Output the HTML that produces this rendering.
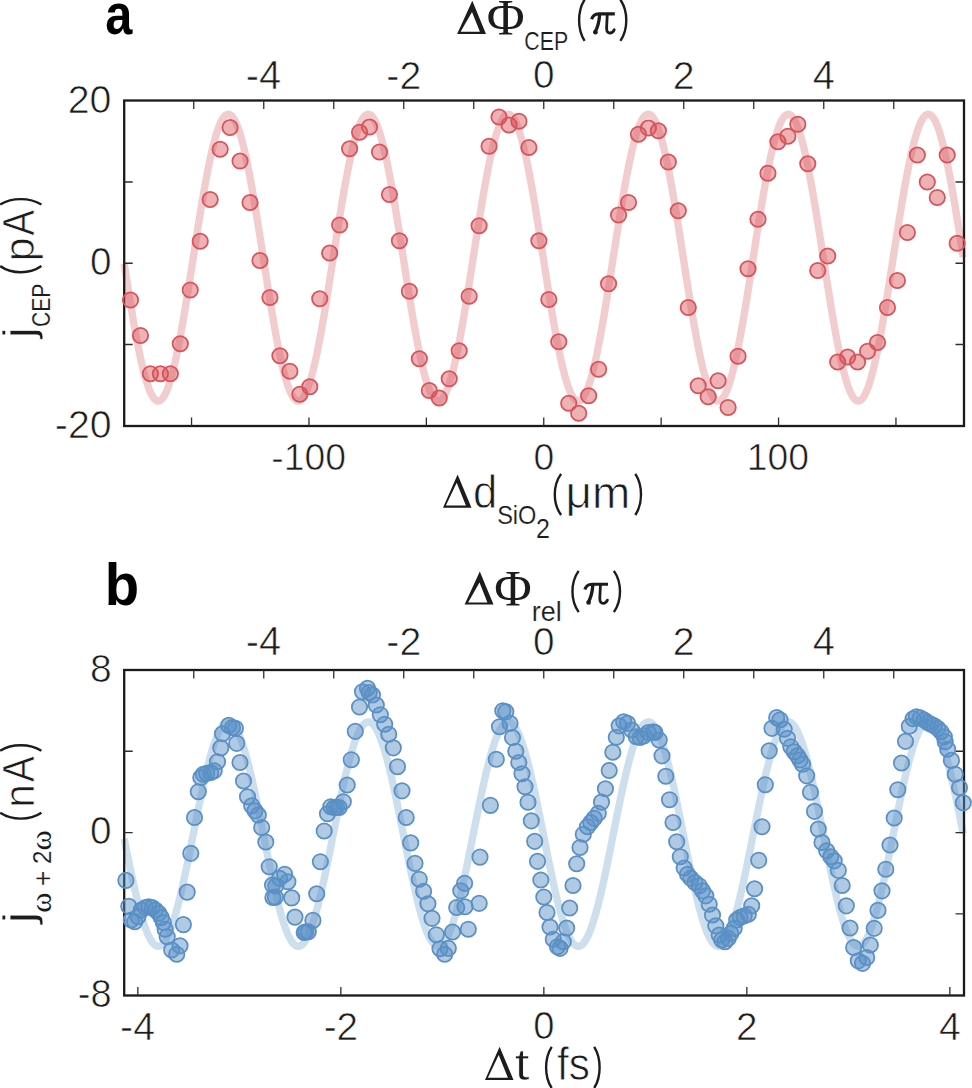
<!DOCTYPE html><html><head><meta charset="utf-8"><style>html,body{margin:0;padding:0;background:#fff;overflow:hidden}svg{display:block}</style></head><body><svg width="972" height="1088" viewBox="0 0 972 1088">
<rect width="972" height="1088" fill="#fff"/>
<clipPath id="ca"><rect x="124.2" y="100.5" width="839.8" height="325.5"/></clipPath>
<polyline points="124.2,263.71 125.2,270.13 126.2,276.53 127.2,282.89 128.2,289.20 129.2,295.44 130.2,301.61 131.2,307.69 132.2,313.66 133.2,319.53 134.2,325.27 135.2,330.87 136.2,336.33 137.2,341.63 138.2,346.76 139.2,351.71 140.2,356.47 141.2,361.03 142.2,365.38 143.2,369.51 144.2,373.42 145.2,377.10 146.2,380.54 147.2,383.72 148.2,386.66 149.2,389.33 150.2,391.74 151.2,393.88 152.2,395.75 153.2,397.33 154.2,398.64 155.2,399.66 156.2,400.39 157.2,400.84 158.2,401.00 159.2,400.87 160.2,400.45 161.2,399.75 162.2,398.75 163.2,397.48 164.2,395.92 165.2,394.08 166.2,391.97 167.2,389.59 168.2,386.94 169.2,384.03 170.2,380.87 171.2,377.45 172.2,373.80 173.2,369.91 174.2,365.80 175.2,361.47 176.2,356.93 177.2,352.19 178.2,347.26 179.2,342.15 180.2,336.87 181.2,331.43 182.2,325.84 183.2,320.11 184.2,314.26 185.2,308.29 186.2,302.22 187.2,296.06 188.2,289.82 189.2,283.52 190.2,277.17 191.2,270.77 192.2,264.36 193.2,257.92 194.2,251.49 195.2,245.07 196.2,238.67 197.2,232.31 198.2,226.00 199.2,219.76 200.2,213.59 201.2,207.51 202.2,201.54 203.2,195.67 204.2,189.93 205.2,184.33 206.2,178.87 207.2,173.57 208.2,168.44 209.2,163.49 210.2,158.73 211.2,154.17 212.2,149.82 213.2,145.69 214.2,141.78 215.2,138.10 216.2,134.66 217.2,131.48 218.2,128.54 219.2,125.87 220.2,123.46 221.2,121.32 222.2,119.45 223.2,117.87 224.2,116.56 225.2,115.54 226.2,114.81 227.2,114.36 228.2,114.20 229.2,114.33 230.2,114.75 231.2,115.45 232.2,116.45 233.2,117.72 234.2,119.28 235.2,121.12 236.2,123.23 237.2,125.61 238.2,128.26 239.2,131.17 240.2,134.33 241.2,137.75 242.2,141.40 243.2,145.29 244.2,149.40 245.2,153.73 246.2,158.27 247.2,163.01 248.2,167.94 249.2,173.05 250.2,178.33 251.2,183.77 252.2,189.36 253.2,195.09 254.2,200.94 255.2,206.91 256.2,212.98 257.2,219.14 258.2,225.38 259.2,231.68 260.2,238.03 261.2,244.43 262.2,250.84 263.2,257.28 264.2,263.71 265.2,270.13 266.2,276.53 267.2,282.89 268.2,289.20 269.2,295.44 270.2,301.61 271.2,307.69 272.2,313.66 273.2,319.53 274.2,325.27 275.2,330.87 276.2,336.33 277.2,341.63 278.2,346.76 279.2,351.71 280.2,356.47 281.2,361.03 282.2,365.38 283.2,369.51 284.2,373.42 285.2,377.10 286.2,380.54 287.2,383.72 288.2,386.66 289.2,389.33 290.2,391.74 291.2,393.88 292.2,395.75 293.2,397.33 294.2,398.64 295.2,399.66 296.2,400.39 297.2,400.84 298.2,401.00 299.2,400.87 300.2,400.45 301.2,399.75 302.2,398.75 303.2,397.48 304.2,395.92 305.2,394.08 306.2,391.97 307.2,389.59 308.2,386.94 309.2,384.03 310.2,380.87 311.2,377.45 312.2,373.80 313.2,369.91 314.2,365.80 315.2,361.47 316.2,356.93 317.2,352.19 318.2,347.26 319.2,342.15 320.2,336.87 321.2,331.43 322.2,325.84 323.2,320.11 324.2,314.26 325.2,308.29 326.2,302.22 327.2,296.06 328.2,289.82 329.2,283.52 330.2,277.17 331.2,270.77 332.2,264.36 333.2,257.92 334.2,251.49 335.2,245.07 336.2,238.67 337.2,232.31 338.2,226.00 339.2,219.76 340.2,213.59 341.2,207.51 342.2,201.54 343.2,195.67 344.2,189.93 345.2,184.33 346.2,178.87 347.2,173.57 348.2,168.44 349.2,163.49 350.2,158.73 351.2,154.17 352.2,149.82 353.2,145.69 354.2,141.78 355.2,138.10 356.2,134.66 357.2,131.48 358.2,128.54 359.2,125.87 360.2,123.46 361.2,121.32 362.2,119.45 363.2,117.87 364.2,116.56 365.2,115.54 366.2,114.81 367.2,114.36 368.2,114.20 369.2,114.33 370.2,114.75 371.2,115.45 372.2,116.45 373.2,117.72 374.2,119.28 375.2,121.12 376.2,123.23 377.2,125.61 378.2,128.26 379.2,131.17 380.2,134.33 381.2,137.75 382.2,141.40 383.2,145.29 384.2,149.40 385.2,153.73 386.2,158.27 387.2,163.01 388.2,167.94 389.2,173.05 390.2,178.33 391.2,183.77 392.2,189.36 393.2,195.09 394.2,200.94 395.2,206.91 396.2,212.98 397.2,219.14 398.2,225.38 399.2,231.68 400.2,238.03 401.2,244.43 402.2,250.84 403.2,257.28 404.2,263.71 405.2,270.13 406.2,276.53 407.2,282.89 408.2,289.20 409.2,295.44 410.2,301.61 411.2,307.69 412.2,313.66 413.2,319.53 414.2,325.27 415.2,330.87 416.2,336.33 417.2,341.63 418.2,346.76 419.2,351.71 420.2,356.47 421.2,361.03 422.2,365.38 423.2,369.51 424.2,373.42 425.2,377.10 426.2,380.54 427.2,383.72 428.2,386.66 429.2,389.33 430.2,391.74 431.2,393.88 432.2,395.75 433.2,397.33 434.2,398.64 435.2,399.66 436.2,400.39 437.2,400.84 438.2,401.00 439.2,400.87 440.2,400.45 441.2,399.75 442.2,398.75 443.2,397.48 444.2,395.92 445.2,394.08 446.2,391.97 447.2,389.59 448.2,386.94 449.2,384.03 450.2,380.87 451.2,377.45 452.2,373.80 453.2,369.91 454.2,365.80 455.2,361.47 456.2,356.93 457.2,352.19 458.2,347.26 459.2,342.15 460.2,336.87 461.2,331.43 462.2,325.84 463.2,320.11 464.2,314.26 465.2,308.29 466.2,302.22 467.2,296.06 468.2,289.82 469.2,283.52 470.2,277.17 471.2,270.77 472.2,264.36 473.2,257.92 474.2,251.49 475.2,245.07 476.2,238.67 477.2,232.31 478.2,226.00 479.2,219.76 480.2,213.59 481.2,207.51 482.2,201.54 483.2,195.67 484.2,189.93 485.2,184.33 486.2,178.87 487.2,173.57 488.2,168.44 489.2,163.49 490.2,158.73 491.2,154.17 492.2,149.82 493.2,145.69 494.2,141.78 495.2,138.10 496.2,134.66 497.2,131.48 498.2,128.54 499.2,125.87 500.2,123.46 501.2,121.32 502.2,119.45 503.2,117.87 504.2,116.56 505.2,115.54 506.2,114.81 507.2,114.36 508.2,114.20 509.2,114.33 510.2,114.75 511.2,115.45 512.2,116.45 513.2,117.72 514.2,119.28 515.2,121.12 516.2,123.23 517.2,125.61 518.2,128.26 519.2,131.17 520.2,134.33 521.2,137.75 522.2,141.40 523.2,145.29 524.2,149.40 525.2,153.73 526.2,158.27 527.2,163.01 528.2,167.94 529.2,173.05 530.2,178.33 531.2,183.77 532.2,189.36 533.2,195.09 534.2,200.94 535.2,206.91 536.2,212.98 537.2,219.14 538.2,225.38 539.2,231.68 540.2,238.03 541.2,244.43 542.2,250.84 543.2,257.28 544.2,263.71 545.2,270.13 546.2,276.53 547.2,282.89 548.2,289.20 549.2,295.44 550.2,301.61 551.2,307.69 552.2,313.66 553.2,319.53 554.2,325.27 555.2,330.87 556.2,336.33 557.2,341.63 558.2,346.76 559.2,351.71 560.2,356.47 561.2,361.03 562.2,365.38 563.2,369.51 564.2,373.42 565.2,377.10 566.2,380.54 567.2,383.72 568.2,386.66 569.2,389.33 570.2,391.74 571.2,393.88 572.2,395.75 573.2,397.33 574.2,398.64 575.2,399.66 576.2,400.39 577.2,400.84 578.2,401.00 579.2,400.87 580.2,400.45 581.2,399.75 582.2,398.75 583.2,397.48 584.2,395.92 585.2,394.08 586.2,391.97 587.2,389.59 588.2,386.94 589.2,384.03 590.2,380.87 591.2,377.45 592.2,373.80 593.2,369.91 594.2,365.80 595.2,361.47 596.2,356.93 597.2,352.19 598.2,347.26 599.2,342.15 600.2,336.87 601.2,331.43 602.2,325.84 603.2,320.11 604.2,314.26 605.2,308.29 606.2,302.22 607.2,296.06 608.2,289.82 609.2,283.52 610.2,277.17 611.2,270.77 612.2,264.36 613.2,257.92 614.2,251.49 615.2,245.07 616.2,238.67 617.2,232.31 618.2,226.00 619.2,219.76 620.2,213.59 621.2,207.51 622.2,201.54 623.2,195.67 624.2,189.93 625.2,184.33 626.2,178.87 627.2,173.57 628.2,168.44 629.2,163.49 630.2,158.73 631.2,154.17 632.2,149.82 633.2,145.69 634.2,141.78 635.2,138.10 636.2,134.66 637.2,131.48 638.2,128.54 639.2,125.87 640.2,123.46 641.2,121.32 642.2,119.45 643.2,117.87 644.2,116.56 645.2,115.54 646.2,114.81 647.2,114.36 648.2,114.20 649.2,114.33 650.2,114.75 651.2,115.45 652.2,116.45 653.2,117.72 654.2,119.28 655.2,121.12 656.2,123.23 657.2,125.61 658.2,128.26 659.2,131.17 660.2,134.33 661.2,137.75 662.2,141.40 663.2,145.29 664.2,149.40 665.2,153.73 666.2,158.27 667.2,163.01 668.2,167.94 669.2,173.05 670.2,178.33 671.2,183.77 672.2,189.36 673.2,195.09 674.2,200.94 675.2,206.91 676.2,212.98 677.2,219.14 678.2,225.38 679.2,231.68 680.2,238.03 681.2,244.43 682.2,250.84 683.2,257.28 684.2,263.71 685.2,270.13 686.2,276.53 687.2,282.89 688.2,289.20 689.2,295.44 690.2,301.61 691.2,307.69 692.2,313.66 693.2,319.53 694.2,325.27 695.2,330.87 696.2,336.33 697.2,341.63 698.2,346.76 699.2,351.71 700.2,356.47 701.2,361.03 702.2,365.38 703.2,369.51 704.2,373.42 705.2,377.10 706.2,380.54 707.2,383.72 708.2,386.66 709.2,389.33 710.2,391.74 711.2,393.88 712.2,395.75 713.2,397.33 714.2,398.64 715.2,399.66 716.2,400.39 717.2,400.84 718.2,401.00 719.2,400.87 720.2,400.45 721.2,399.75 722.2,398.75 723.2,397.48 724.2,395.92 725.2,394.08 726.2,391.97 727.2,389.59 728.2,386.94 729.2,384.03 730.2,380.87 731.2,377.45 732.2,373.80 733.2,369.91 734.2,365.80 735.2,361.47 736.2,356.93 737.2,352.19 738.2,347.26 739.2,342.15 740.2,336.87 741.2,331.43 742.2,325.84 743.2,320.11 744.2,314.26 745.2,308.29 746.2,302.22 747.2,296.06 748.2,289.82 749.2,283.52 750.2,277.17 751.2,270.77 752.2,264.36 753.2,257.92 754.2,251.49 755.2,245.07 756.2,238.67 757.2,232.31 758.2,226.00 759.2,219.76 760.2,213.59 761.2,207.51 762.2,201.54 763.2,195.67 764.2,189.93 765.2,184.33 766.2,178.87 767.2,173.57 768.2,168.44 769.2,163.49 770.2,158.73 771.2,154.17 772.2,149.82 773.2,145.69 774.2,141.78 775.2,138.10 776.2,134.66 777.2,131.48 778.2,128.54 779.2,125.87 780.2,123.46 781.2,121.32 782.2,119.45 783.2,117.87 784.2,116.56 785.2,115.54 786.2,114.81 787.2,114.36 788.2,114.20 789.2,114.33 790.2,114.75 791.2,115.45 792.2,116.45 793.2,117.72 794.2,119.28 795.2,121.12 796.2,123.23 797.2,125.61 798.2,128.26 799.2,131.17 800.2,134.33 801.2,137.75 802.2,141.40 803.2,145.29 804.2,149.40 805.2,153.73 806.2,158.27 807.2,163.01 808.2,167.94 809.2,173.05 810.2,178.33 811.2,183.77 812.2,189.36 813.2,195.09 814.2,200.94 815.2,206.91 816.2,212.98 817.2,219.14 818.2,225.38 819.2,231.68 820.2,238.03 821.2,244.43 822.2,250.84 823.2,257.28 824.2,263.71 825.2,270.13 826.2,276.53 827.2,282.89 828.2,289.20 829.2,295.44 830.2,301.61 831.2,307.69 832.2,313.66 833.2,319.53 834.2,325.27 835.2,330.87 836.2,336.33 837.2,341.63 838.2,346.76 839.2,351.71 840.2,356.47 841.2,361.03 842.2,365.38 843.2,369.51 844.2,373.42 845.2,377.10 846.2,380.54 847.2,383.72 848.2,386.66 849.2,389.33 850.2,391.74 851.2,393.88 852.2,395.75 853.2,397.33 854.2,398.64 855.2,399.66 856.2,400.39 857.2,400.84 858.2,401.00 859.2,400.87 860.2,400.45 861.2,399.75 862.2,398.75 863.2,397.48 864.2,395.92 865.2,394.08 866.2,391.97 867.2,389.59 868.2,386.94 869.2,384.03 870.2,380.87 871.2,377.45 872.2,373.80 873.2,369.91 874.2,365.80 875.2,361.47 876.2,356.93 877.2,352.19 878.2,347.26 879.2,342.15 880.2,336.87 881.2,331.43 882.2,325.84 883.2,320.11 884.2,314.26 885.2,308.29 886.2,302.22 887.2,296.06 888.2,289.82 889.2,283.52 890.2,277.17 891.2,270.77 892.2,264.36 893.2,257.92 894.2,251.49 895.2,245.07 896.2,238.67 897.2,232.31 898.2,226.00 899.2,219.76 900.2,213.59 901.2,207.51 902.2,201.54 903.2,195.67 904.2,189.93 905.2,184.33 906.2,178.87 907.2,173.57 908.2,168.44 909.2,163.49 910.2,158.73 911.2,154.17 912.2,149.82 913.2,145.69 914.2,141.78 915.2,138.10 916.2,134.66 917.2,131.48 918.2,128.54 919.2,125.87 920.2,123.46 921.2,121.32 922.2,119.45 923.2,117.87 924.2,116.56 925.2,115.54 926.2,114.81 927.2,114.36 928.2,114.20 929.2,114.33 930.2,114.75 931.2,115.45 932.2,116.45 933.2,117.72 934.2,119.28 935.2,121.12 936.2,123.23 937.2,125.61 938.2,128.26 939.2,131.17 940.2,134.33 941.2,137.75 942.2,141.40 943.2,145.29 944.2,149.40 945.2,153.73 946.2,158.27 947.2,163.01 948.2,167.94 949.2,173.05 950.2,178.33 951.2,183.77 952.2,189.36 953.2,195.09 954.2,200.94 955.2,206.91 956.2,212.98 957.2,219.14 958.2,225.38 959.2,231.68 960.2,238.03 961.2,244.43 962.2,250.84 963.2,257.28" fill="none" stroke="#f2cdd0" stroke-width="7.4" stroke-linejoin="round"/>
<rect x="124.2" y="100.5" width="839.8" height="325.5" fill="none" stroke="#1a1a1a" stroke-width="2.3"/>
<path d="M193.75 100.5 v8.5 M263.75 100.5 v8.5 M333.75 100.5 v8.5 M403.75 100.5 v8.5 M473.75 100.5 v8.5 M543.75 100.5 v8.5 M613.75 100.5 v8.5 M683.75 100.5 v8.5 M753.75 100.5 v8.5 M823.75 100.5 v8.5 M893.75 100.5 v8.5 M191.55 426.0 v-8.5 M308.95 426.0 v-8.5 M426.35 426.0 v-8.5 M543.75 426.0 v-8.5 M661.15 426.0 v-8.5 M778.55 426.0 v-8.5 M895.95 426.0 v-8.5 M124.2 344.50 h8.5 M964.0 344.50 h-8.5 M124.2 263.25 h8.5 M964.0 263.25 h-8.5 M124.2 182.00 h8.5 M964.0 182.00 h-8.5" stroke="#2e2e2e" stroke-width="1.3" fill="none"/>
<g fill="rgba(216,80,86,0.44)" stroke="#d6545a" stroke-width="1.75"><circle cx="130.50" cy="300" r="7.7"/><circle cx="140.46" cy="335.5" r="7.7"/><circle cx="150.42" cy="373.75" r="7.7"/><circle cx="160.38" cy="373.75" r="7.7"/><circle cx="170.34" cy="373.75" r="7.7"/><circle cx="180.30" cy="343.75" r="7.7"/><circle cx="190.26" cy="290" r="7.7"/><circle cx="200.22" cy="241.25" r="7.7"/><circle cx="210.18" cy="199.5" r="7.7"/><circle cx="220.14" cy="149.25" r="7.7"/><circle cx="230.10" cy="127.5" r="7.7"/><circle cx="240.06" cy="161" r="7.7"/><circle cx="250.02" cy="202.5" r="7.7"/><circle cx="259.98" cy="260.5" r="7.7"/><circle cx="269.94" cy="297.5" r="7.7"/><circle cx="279.90" cy="355.75" r="7.7"/><circle cx="289.86" cy="371.25" r="7.7"/><circle cx="299.82" cy="394.25" r="7.7"/><circle cx="309.78" cy="386.75" r="7.7"/><circle cx="319.74" cy="298.75" r="7.7"/><circle cx="329.70" cy="253" r="7.7"/><circle cx="339.66" cy="225" r="7.7"/><circle cx="349.62" cy="148.75" r="7.7"/><circle cx="359.58" cy="132.25" r="7.7"/><circle cx="369.54" cy="127" r="7.7"/><circle cx="379.50" cy="152" r="7.7"/><circle cx="389.46" cy="194.5" r="7.7"/><circle cx="399.42" cy="240.75" r="7.7"/><circle cx="409.38" cy="291.25" r="7.7"/><circle cx="419.34" cy="358.75" r="7.7"/><circle cx="429.30" cy="390.5" r="7.7"/><circle cx="439.26" cy="398" r="7.7"/><circle cx="449.22" cy="378.75" r="7.7"/><circle cx="459.18" cy="350.75" r="7.7"/><circle cx="469.14" cy="296.25" r="7.7"/><circle cx="479.10" cy="225.75" r="7.7"/><circle cx="489.06" cy="146.25" r="7.7"/><circle cx="499.02" cy="117" r="7.7"/><circle cx="508.98" cy="125" r="7.7"/><circle cx="518.94" cy="121.25" r="7.7"/><circle cx="528.90" cy="147.5" r="7.7"/><circle cx="538.86" cy="240.75" r="7.7"/><circle cx="548.82" cy="299.5" r="7.7"/><circle cx="558.78" cy="341.75" r="7.7"/><circle cx="568.74" cy="403.25" r="7.7"/><circle cx="578.70" cy="413.25" r="7.7"/><circle cx="588.66" cy="395.75" r="7.7"/><circle cx="598.62" cy="369.25" r="7.7"/><circle cx="608.58" cy="283.75" r="7.7"/><circle cx="618.54" cy="215" r="7.7"/><circle cx="628.50" cy="202.5" r="7.7"/><circle cx="638.46" cy="134.25" r="7.7"/><circle cx="648.42" cy="128" r="7.7"/><circle cx="658.38" cy="130.75" r="7.7"/><circle cx="668.34" cy="162" r="7.7"/><circle cx="678.30" cy="210.75" r="7.7"/><circle cx="688.26" cy="307.5" r="7.7"/><circle cx="698.22" cy="385.75" r="7.7"/><circle cx="708.18" cy="396.75" r="7.7"/><circle cx="718.14" cy="380.75" r="7.7"/><circle cx="728.10" cy="407.5" r="7.7"/><circle cx="738.06" cy="356.25" r="7.7"/><circle cx="748.02" cy="268.75" r="7.7"/><circle cx="757.98" cy="219.25" r="7.7"/><circle cx="767.94" cy="173.25" r="7.7"/><circle cx="777.90" cy="141.75" r="7.7"/><circle cx="787.86" cy="136.25" r="7.7"/><circle cx="797.82" cy="124.25" r="7.7"/><circle cx="807.78" cy="163.75" r="7.7"/><circle cx="817.74" cy="270.5" r="7.7"/><circle cx="827.70" cy="256" r="7.7"/><circle cx="837.66" cy="362" r="7.7"/><circle cx="847.62" cy="357" r="7.7"/><circle cx="857.58" cy="362" r="7.7"/><circle cx="867.54" cy="351.25" r="7.7"/><circle cx="877.50" cy="342.5" r="7.7"/><circle cx="887.46" cy="307.5" r="7.7"/><circle cx="897.42" cy="280.5" r="7.7"/><circle cx="907.38" cy="232.5" r="7.7"/><circle cx="917.34" cy="155" r="7.7"/><circle cx="927.30" cy="182" r="7.7"/><circle cx="937.26" cy="197.5" r="7.7"/><circle cx="947.22" cy="155" r="7.7"/><circle cx="957.18" cy="243.25" r="7.7"/></g>
<clipPath id="cb"><rect x="124.2" y="670.0" width="839.8" height="325.5"/></clipPath>
<polyline points="124.2,838.63 125.2,843.66 126.2,848.66 127.2,853.64 128.2,858.58 129.2,863.46 130.2,868.29 131.2,873.05 132.2,877.73 133.2,882.33 134.2,886.82 135.2,891.21 136.2,895.49 137.2,899.64 138.2,903.66 139.2,907.54 140.2,911.27 141.2,914.85 142.2,918.26 143.2,921.51 144.2,924.57 145.2,927.46 146.2,930.16 147.2,932.66 148.2,934.97 149.2,937.07 150.2,938.97 151.2,940.65 152.2,942.12 153.2,943.37 154.2,944.41 155.2,945.22 156.2,945.80 157.2,946.16 158.2,946.30 159.2,946.21 160.2,945.89 161.2,945.35 162.2,944.59 163.2,943.60 164.2,942.39 165.2,940.96 166.2,939.32 167.2,937.47 168.2,935.41 169.2,933.14 170.2,930.68 171.2,928.02 172.2,925.17 173.2,922.13 174.2,918.93 175.2,915.54 176.2,912.00 177.2,908.30 178.2,904.45 179.2,900.46 180.2,896.33 181.2,892.08 182.2,887.71 183.2,883.23 184.2,878.66 185.2,874.00 186.2,869.25 187.2,864.43 188.2,859.56 189.2,854.63 190.2,849.66 191.2,844.66 192.2,839.64 193.2,834.60 194.2,829.57 195.2,824.54 196.2,819.54 197.2,814.56 198.2,809.62 199.2,804.74 200.2,799.91 201.2,795.15 202.2,790.47 203.2,785.87 204.2,781.38 205.2,776.99 206.2,772.71 207.2,768.56 208.2,764.54 209.2,760.66 210.2,756.93 211.2,753.35 212.2,749.94 213.2,746.69 214.2,743.63 215.2,740.74 216.2,738.04 217.2,735.54 218.2,733.23 219.2,731.13 220.2,729.23 221.2,727.55 222.2,726.08 223.2,724.83 224.2,723.79 225.2,722.98 226.2,722.40 227.2,722.04 228.2,721.90 229.2,721.99 230.2,722.31 231.2,722.85 232.2,723.61 233.2,724.60 234.2,725.81 235.2,727.24 236.2,728.88 237.2,730.73 238.2,732.79 239.2,735.06 240.2,737.52 241.2,740.18 242.2,743.03 243.2,746.07 244.2,749.27 245.2,752.66 246.2,756.20 247.2,759.90 248.2,763.75 249.2,767.74 250.2,771.87 251.2,776.12 252.2,780.49 253.2,784.97 254.2,789.54 255.2,794.20 256.2,798.95 257.2,803.77 258.2,808.64 259.2,813.57 260.2,818.54 261.2,823.54 262.2,828.56 263.2,833.60 264.2,838.63 265.2,843.66 266.2,848.66 267.2,853.64 268.2,858.58 269.2,863.46 270.2,868.29 271.2,873.05 272.2,877.73 273.2,882.33 274.2,886.82 275.2,891.21 276.2,895.49 277.2,899.64 278.2,903.66 279.2,907.54 280.2,911.27 281.2,914.85 282.2,918.26 283.2,921.51 284.2,924.57 285.2,927.46 286.2,930.16 287.2,932.66 288.2,934.97 289.2,937.07 290.2,938.97 291.2,940.65 292.2,942.12 293.2,943.37 294.2,944.41 295.2,945.22 296.2,945.80 297.2,946.16 298.2,946.30 299.2,946.21 300.2,945.89 301.2,945.35 302.2,944.59 303.2,943.60 304.2,942.39 305.2,940.96 306.2,939.32 307.2,937.47 308.2,935.41 309.2,933.14 310.2,930.68 311.2,928.02 312.2,925.17 313.2,922.13 314.2,918.93 315.2,915.54 316.2,912.00 317.2,908.30 318.2,904.45 319.2,900.46 320.2,896.33 321.2,892.08 322.2,887.71 323.2,883.23 324.2,878.66 325.2,874.00 326.2,869.25 327.2,864.43 328.2,859.56 329.2,854.63 330.2,849.66 331.2,844.66 332.2,839.64 333.2,834.60 334.2,829.57 335.2,824.54 336.2,819.54 337.2,814.56 338.2,809.62 339.2,804.74 340.2,799.91 341.2,795.15 342.2,790.47 343.2,785.87 344.2,781.38 345.2,776.99 346.2,772.71 347.2,768.56 348.2,764.54 349.2,760.66 350.2,756.93 351.2,753.35 352.2,749.94 353.2,746.69 354.2,743.63 355.2,740.74 356.2,738.04 357.2,735.54 358.2,733.23 359.2,731.13 360.2,729.23 361.2,727.55 362.2,726.08 363.2,724.83 364.2,723.79 365.2,722.98 366.2,722.40 367.2,722.04 368.2,721.90 369.2,721.99 370.2,722.31 371.2,722.85 372.2,723.61 373.2,724.60 374.2,725.81 375.2,727.24 376.2,728.88 377.2,730.73 378.2,732.79 379.2,735.06 380.2,737.52 381.2,740.18 382.2,743.03 383.2,746.07 384.2,749.27 385.2,752.66 386.2,756.20 387.2,759.90 388.2,763.75 389.2,767.74 390.2,771.87 391.2,776.12 392.2,780.49 393.2,784.97 394.2,789.54 395.2,794.20 396.2,798.95 397.2,803.77 398.2,808.64 399.2,813.57 400.2,818.54 401.2,823.54 402.2,828.56 403.2,833.60 404.2,838.63 405.2,843.66 406.2,848.66 407.2,853.64 408.2,858.58 409.2,863.46 410.2,868.29 411.2,873.05 412.2,877.73 413.2,882.33 414.2,886.82 415.2,891.21 416.2,895.49 417.2,899.64 418.2,903.66 419.2,907.54 420.2,911.27 421.2,914.85 422.2,918.26 423.2,921.51 424.2,924.57 425.2,927.46 426.2,930.16 427.2,932.66 428.2,934.97 429.2,937.07 430.2,938.97 431.2,940.65 432.2,942.12 433.2,943.37 434.2,944.41 435.2,945.22 436.2,945.80 437.2,946.16 438.2,946.30 439.2,946.21 440.2,945.89 441.2,945.35 442.2,944.59 443.2,943.60 444.2,942.39 445.2,940.96 446.2,939.32 447.2,937.47 448.2,935.41 449.2,933.14 450.2,930.68 451.2,928.02 452.2,925.17 453.2,922.13 454.2,918.93 455.2,915.54 456.2,912.00 457.2,908.30 458.2,904.45 459.2,900.46 460.2,896.33 461.2,892.08 462.2,887.71 463.2,883.23 464.2,878.66 465.2,874.00 466.2,869.25 467.2,864.43 468.2,859.56 469.2,854.63 470.2,849.66 471.2,844.66 472.2,839.64 473.2,834.60 474.2,829.57 475.2,824.54 476.2,819.54 477.2,814.56 478.2,809.62 479.2,804.74 480.2,799.91 481.2,795.15 482.2,790.47 483.2,785.87 484.2,781.38 485.2,776.99 486.2,772.71 487.2,768.56 488.2,764.54 489.2,760.66 490.2,756.93 491.2,753.35 492.2,749.94 493.2,746.69 494.2,743.63 495.2,740.74 496.2,738.04 497.2,735.54 498.2,733.23 499.2,731.13 500.2,729.23 501.2,727.55 502.2,726.08 503.2,724.83 504.2,723.79 505.2,722.98 506.2,722.40 507.2,722.04 508.2,721.90 509.2,721.99 510.2,722.31 511.2,722.85 512.2,723.61 513.2,724.60 514.2,725.81 515.2,727.24 516.2,728.88 517.2,730.73 518.2,732.79 519.2,735.06 520.2,737.52 521.2,740.18 522.2,743.03 523.2,746.07 524.2,749.27 525.2,752.66 526.2,756.20 527.2,759.90 528.2,763.75 529.2,767.74 530.2,771.87 531.2,776.12 532.2,780.49 533.2,784.97 534.2,789.54 535.2,794.20 536.2,798.95 537.2,803.77 538.2,808.64 539.2,813.57 540.2,818.54 541.2,823.54 542.2,828.56 543.2,833.60 544.2,838.63 545.2,843.66 546.2,848.66 547.2,853.64 548.2,858.58 549.2,863.46 550.2,868.29 551.2,873.05 552.2,877.73 553.2,882.33 554.2,886.82 555.2,891.21 556.2,895.49 557.2,899.64 558.2,903.66 559.2,907.54 560.2,911.27 561.2,914.85 562.2,918.26 563.2,921.51 564.2,924.57 565.2,927.46 566.2,930.16 567.2,932.66 568.2,934.97 569.2,937.07 570.2,938.97 571.2,940.65 572.2,942.12 573.2,943.37 574.2,944.41 575.2,945.22 576.2,945.80 577.2,946.16 578.2,946.30 579.2,946.21 580.2,945.89 581.2,945.35 582.2,944.59 583.2,943.60 584.2,942.39 585.2,940.96 586.2,939.32 587.2,937.47 588.2,935.41 589.2,933.14 590.2,930.68 591.2,928.02 592.2,925.17 593.2,922.13 594.2,918.93 595.2,915.54 596.2,912.00 597.2,908.30 598.2,904.45 599.2,900.46 600.2,896.33 601.2,892.08 602.2,887.71 603.2,883.23 604.2,878.66 605.2,874.00 606.2,869.25 607.2,864.43 608.2,859.56 609.2,854.63 610.2,849.66 611.2,844.66 612.2,839.64 613.2,834.60 614.2,829.57 615.2,824.54 616.2,819.54 617.2,814.56 618.2,809.62 619.2,804.74 620.2,799.91 621.2,795.15 622.2,790.47 623.2,785.87 624.2,781.38 625.2,776.99 626.2,772.71 627.2,768.56 628.2,764.54 629.2,760.66 630.2,756.93 631.2,753.35 632.2,749.94 633.2,746.69 634.2,743.63 635.2,740.74 636.2,738.04 637.2,735.54 638.2,733.23 639.2,731.13 640.2,729.23 641.2,727.55 642.2,726.08 643.2,724.83 644.2,723.79 645.2,722.98 646.2,722.40 647.2,722.04 648.2,721.90 649.2,721.99 650.2,722.31 651.2,722.85 652.2,723.61 653.2,724.60 654.2,725.81 655.2,727.24 656.2,728.88 657.2,730.73 658.2,732.79 659.2,735.06 660.2,737.52 661.2,740.18 662.2,743.03 663.2,746.07 664.2,749.27 665.2,752.66 666.2,756.20 667.2,759.90 668.2,763.75 669.2,767.74 670.2,771.87 671.2,776.12 672.2,780.49 673.2,784.97 674.2,789.54 675.2,794.20 676.2,798.95 677.2,803.77 678.2,808.64 679.2,813.57 680.2,818.54 681.2,823.54 682.2,828.56 683.2,833.60 684.2,838.63 685.2,843.66 686.2,848.66 687.2,853.64 688.2,858.58 689.2,863.46 690.2,868.29 691.2,873.05 692.2,877.73 693.2,882.33 694.2,886.82 695.2,891.21 696.2,895.49 697.2,899.64 698.2,903.66 699.2,907.54 700.2,911.27 701.2,914.85 702.2,918.26 703.2,921.51 704.2,924.57 705.2,927.46 706.2,930.16 707.2,932.66 708.2,934.97 709.2,937.07 710.2,938.97 711.2,940.65 712.2,942.12 713.2,943.37 714.2,944.41 715.2,945.22 716.2,945.80 717.2,946.16 718.2,946.30 719.2,946.21 720.2,945.89 721.2,945.35 722.2,944.59 723.2,943.60 724.2,942.39 725.2,940.96 726.2,939.32 727.2,937.47 728.2,935.41 729.2,933.14 730.2,930.68 731.2,928.02 732.2,925.17 733.2,922.13 734.2,918.93 735.2,915.54 736.2,912.00 737.2,908.30 738.2,904.45 739.2,900.46 740.2,896.33 741.2,892.08 742.2,887.71 743.2,883.23 744.2,878.66 745.2,874.00 746.2,869.25 747.2,864.43 748.2,859.56 749.2,854.63 750.2,849.66 751.2,844.66 752.2,839.64 753.2,834.60 754.2,829.57 755.2,824.54 756.2,819.54 757.2,814.56 758.2,809.62 759.2,804.74 760.2,799.91 761.2,795.15 762.2,790.47 763.2,785.87 764.2,781.38 765.2,776.99 766.2,772.71 767.2,768.56 768.2,764.54 769.2,760.66 770.2,756.93 771.2,753.35 772.2,749.94 773.2,746.69 774.2,743.63 775.2,740.74 776.2,738.04 777.2,735.54 778.2,733.23 779.2,731.13 780.2,729.23 781.2,727.55 782.2,726.08 783.2,724.83 784.2,723.79 785.2,722.98 786.2,722.40 787.2,722.04 788.2,721.90 789.2,721.99 790.2,722.31 791.2,722.85 792.2,723.61 793.2,724.60 794.2,725.81 795.2,727.24 796.2,728.88 797.2,730.73 798.2,732.79 799.2,735.06 800.2,737.52 801.2,740.18 802.2,743.03 803.2,746.07 804.2,749.27 805.2,752.66 806.2,756.20 807.2,759.90 808.2,763.75 809.2,767.74 810.2,771.87 811.2,776.12 812.2,780.49 813.2,784.97 814.2,789.54 815.2,794.20 816.2,798.95 817.2,803.77 818.2,808.64 819.2,813.57 820.2,818.54 821.2,823.54 822.2,828.56 823.2,833.60 824.2,838.63 825.2,843.66 826.2,848.66 827.2,853.64 828.2,858.58 829.2,863.46 830.2,868.29 831.2,873.05 832.2,877.73 833.2,882.33 834.2,886.82 835.2,891.21 836.2,895.49 837.2,899.64 838.2,903.66 839.2,907.54 840.2,911.27 841.2,914.85 842.2,918.26 843.2,921.51 844.2,924.57 845.2,927.46 846.2,930.16 847.2,932.66 848.2,934.97 849.2,937.07 850.2,938.97 851.2,940.65 852.2,942.12 853.2,943.37 854.2,944.41 855.2,945.22 856.2,945.80 857.2,946.16 858.2,946.30 859.2,946.21 860.2,945.89 861.2,945.35 862.2,944.59 863.2,943.60 864.2,942.39 865.2,940.96 866.2,939.32 867.2,937.47 868.2,935.41 869.2,933.14 870.2,930.68 871.2,928.02 872.2,925.17 873.2,922.13 874.2,918.93 875.2,915.54 876.2,912.00 877.2,908.30 878.2,904.45 879.2,900.46 880.2,896.33 881.2,892.08 882.2,887.71 883.2,883.23 884.2,878.66 885.2,874.00 886.2,869.25 887.2,864.43 888.2,859.56 889.2,854.63 890.2,849.66 891.2,844.66 892.2,839.64 893.2,834.60 894.2,829.57 895.2,824.54 896.2,819.54 897.2,814.56 898.2,809.62 899.2,804.74 900.2,799.91 901.2,795.15 902.2,790.47 903.2,785.87 904.2,781.38 905.2,776.99 906.2,772.71 907.2,768.56 908.2,764.54 909.2,760.66 910.2,756.93 911.2,753.35 912.2,749.94 913.2,746.69 914.2,743.63 915.2,740.74 916.2,738.04 917.2,735.54 918.2,733.23 919.2,731.13 920.2,729.23 921.2,727.55 922.2,726.08 923.2,724.83 924.2,723.79 925.2,722.98 926.2,722.40 927.2,722.04 928.2,721.90 929.2,721.99 930.2,722.31 931.2,722.85 932.2,723.61 933.2,724.60 934.2,725.81 935.2,727.24 936.2,728.88 937.2,730.73 938.2,732.79 939.2,735.06 940.2,737.52 941.2,740.18 942.2,743.03 943.2,746.07 944.2,749.27 945.2,752.66 946.2,756.20 947.2,759.90 948.2,763.75 949.2,767.74 950.2,771.87 951.2,776.12 952.2,780.49 953.2,784.97 954.2,789.54 955.2,794.20 956.2,798.95 957.2,803.77 958.2,808.64 959.2,813.57 960.2,818.54 961.2,823.54 962.2,828.56 963.2,833.60" fill="none" stroke="#cddeed" stroke-width="7.4" stroke-linejoin="round"/>
<rect x="124.2" y="670.0" width="839.8" height="325.5" fill="none" stroke="#1a1a1a" stroke-width="2.3"/>
<path d="M193.75 670.0 v8.5 M263.75 670.0 v8.5 M333.75 670.0 v8.5 M403.75 670.0 v8.5 M473.75 670.0 v8.5 M543.75 670.0 v8.5 M613.75 670.0 v8.5 M683.75 670.0 v8.5 M753.75 670.0 v8.5 M823.75 670.0 v8.5 M893.75 670.0 v8.5 M137.85 995.5 v-8.5 M340.85 995.5 v-8.5 M543.85 995.5 v-8.5 M746.85 995.5 v-8.5 M949.85 995.5 v-8.5 M124.2 913.96 h8.5 M964.0 913.96 h-8.5 M124.2 832.60 h8.5 M964.0 832.60 h-8.5 M124.2 751.24 h8.5 M964.0 751.24 h-8.5" stroke="#2e2e2e" stroke-width="1.3" fill="none"/>
<g fill="rgba(90,145,198,0.48)" stroke="#5a90c4" stroke-width="1.75"><circle cx="125.9" cy="880.4" r="7.7"/><circle cx="128.8" cy="906.3" r="7.7"/><circle cx="131.3" cy="920.0" r="7.7"/><circle cx="134.7" cy="921.7" r="7.7"/><circle cx="138.0" cy="916.7" r="7.7"/><circle cx="141.3" cy="910.0" r="7.7"/><circle cx="145.5" cy="907.5" r="7.7"/><circle cx="148.8" cy="906.7" r="7.7"/><circle cx="152.2" cy="907.5" r="7.7"/><circle cx="155.5" cy="910.0" r="7.7"/><circle cx="158.8" cy="913.3" r="7.7"/><circle cx="161.3" cy="917.5" r="7.7"/><circle cx="163.4" cy="922.5" r="7.7"/><circle cx="165.1" cy="929.2" r="7.7"/><circle cx="167.2" cy="936.7" r="7.7"/><circle cx="171.7" cy="950.0" r="7.7"/><circle cx="176.7" cy="954.2" r="7.7"/><circle cx="180.0" cy="945.8" r="7.7"/><circle cx="183.4" cy="924.6" r="7.7"/><circle cx="187.2" cy="892.1" r="7.7"/><circle cx="190.8" cy="853.3" r="7.7"/><circle cx="194.5" cy="817.5" r="7.7"/><circle cx="198.3" cy="791.7" r="7.7"/><circle cx="200.8" cy="777.5" r="7.7"/><circle cx="203.3" cy="774.2" r="7.7"/><circle cx="206.7" cy="773.3" r="7.7"/><circle cx="210.8" cy="772.5" r="7.7"/><circle cx="214.2" cy="770.8" r="7.7"/><circle cx="217.5" cy="761.7" r="7.7"/><circle cx="220.8" cy="747.9" r="7.7"/><circle cx="222.5" cy="733.75" r="7.7"/><circle cx="228.75" cy="725.4" r="7.7"/><circle cx="232.5" cy="727.5" r="7.7"/><circle cx="235.4" cy="728.3" r="7.7"/><circle cx="236.7" cy="743.3" r="7.7"/><circle cx="240.0" cy="762.5" r="7.7"/><circle cx="243.5" cy="781.0" r="7.7"/><circle cx="247.5" cy="796.7" r="7.7"/><circle cx="251.7" cy="805.8" r="7.7"/><circle cx="255.0" cy="810.8" r="7.7"/><circle cx="258.3" cy="815.0" r="7.7"/><circle cx="261.7" cy="827.5" r="7.7"/><circle cx="265.8" cy="842.0" r="7.7"/><circle cx="269.2" cy="866.7" r="7.7"/><circle cx="272.5" cy="885.0" r="7.7"/><circle cx="272.9" cy="897.5" r="7.7"/><circle cx="275.4" cy="897.1" r="7.7"/><circle cx="275.8" cy="885.8" r="7.7"/><circle cx="279.6" cy="878.3" r="7.7"/><circle cx="284.6" cy="874.2" r="7.7"/><circle cx="287.9" cy="881.7" r="7.7"/><circle cx="291.7" cy="897.9" r="7.7"/><circle cx="295.0" cy="917.1" r="7.7"/><circle cx="304.2" cy="932.5" r="7.7"/><circle cx="305.8" cy="931.7" r="7.7"/><circle cx="308.3" cy="931.7" r="7.7"/><circle cx="312.9" cy="920.4" r="7.7"/><circle cx="316.7" cy="893.75" r="7.7"/><circle cx="320.4" cy="861.7" r="7.7"/><circle cx="324.2" cy="831.0" r="7.7"/><circle cx="327.5" cy="813.7" r="7.7"/><circle cx="330.8" cy="806.7" r="7.7"/><circle cx="334.2" cy="807.5" r="7.7"/><circle cx="336.7" cy="807.5" r="7.7"/><circle cx="339.2" cy="807.5" r="7.7"/><circle cx="343.3" cy="801.7" r="7.7"/><circle cx="347.2" cy="785.0" r="7.7"/><circle cx="351.3" cy="759.7" r="7.7"/><circle cx="355.3" cy="731.3" r="7.7"/><circle cx="359.5" cy="707.0" r="7.7"/><circle cx="362.5" cy="691.7" r="7.7"/><circle cx="367.5" cy="688.3" r="7.7"/><circle cx="369.2" cy="692.5" r="7.7"/><circle cx="372.5" cy="695.0" r="7.7"/><circle cx="376.3" cy="705.0" r="7.7"/><circle cx="380.3" cy="714.7" r="7.7"/><circle cx="384.7" cy="724.2" r="7.7"/><circle cx="388.7" cy="734.2" r="7.7"/><circle cx="393.3" cy="747.8" r="7.7"/><circle cx="397.5" cy="766.7" r="7.7"/><circle cx="402.0" cy="790.8" r="7.7"/><circle cx="406.2" cy="817.5" r="7.7"/><circle cx="410.7" cy="842.9" r="7.7"/><circle cx="415.0" cy="863.3" r="7.7"/><circle cx="419.3" cy="879.2" r="7.7"/><circle cx="423.6" cy="891.25" r="7.7"/><circle cx="427.9" cy="903.75" r="7.7"/><circle cx="432.0" cy="918.3" r="7.7"/><circle cx="436.3" cy="934.7" r="7.7"/><circle cx="440.0" cy="948.7" r="7.7"/><circle cx="444.7" cy="954.2" r="7.7"/><circle cx="448.3" cy="948.3" r="7.7"/><circle cx="452.5" cy="932.0" r="7.7"/><circle cx="456.7" cy="907.5" r="7.7"/><circle cx="460.8" cy="890.8" r="7.7"/><circle cx="464.6" cy="883.3" r="7.7"/><circle cx="465.0" cy="906.7" r="7.7"/><circle cx="468.3" cy="929.2" r="7.7"/><circle cx="479.2" cy="903.3" r="7.7"/><circle cx="480.0" cy="857.1" r="7.7"/><circle cx="490.4" cy="805.4" r="7.7"/><circle cx="496.3" cy="759.2" r="7.7"/><circle cx="499.5" cy="726.7" r="7.7"/><circle cx="502.8" cy="710.8" r="7.7"/><circle cx="505.8" cy="711.7" r="7.7"/><circle cx="510.0" cy="723.3" r="7.7"/><circle cx="512.5" cy="737.5" r="7.7"/><circle cx="515.8" cy="751.2" r="7.7"/><circle cx="518.8" cy="762.5" r="7.7"/><circle cx="522.0" cy="773.7" r="7.7"/><circle cx="525.0" cy="786.7" r="7.7"/><circle cx="528.0" cy="802.2" r="7.7"/><circle cx="531.3" cy="820.8" r="7.7"/><circle cx="534.7" cy="841.3" r="7.7"/><circle cx="537.5" cy="861.3" r="7.7"/><circle cx="540.8" cy="880.0" r="7.7"/><circle cx="543.8" cy="897.0" r="7.7"/><circle cx="547.0" cy="912.5" r="7.7"/><circle cx="550.0" cy="927.0" r="7.7"/><circle cx="553.3" cy="939.2" r="7.7"/><circle cx="557.5" cy="946.7" r="7.7"/><circle cx="560.0" cy="948.3" r="7.7"/><circle cx="563.3" cy="941.7" r="7.7"/><circle cx="566.7" cy="928.0" r="7.7"/><circle cx="569.7" cy="908.0" r="7.7"/><circle cx="573.0" cy="885.5" r="7.7"/><circle cx="576.7" cy="863.75" r="7.7"/><circle cx="580.0" cy="847.5" r="7.7"/><circle cx="583.3" cy="834.2" r="7.7"/><circle cx="587.5" cy="826.7" r="7.7"/><circle cx="590.8" cy="822.5" r="7.7"/><circle cx="594.2" cy="818.3" r="7.7"/><circle cx="598.3" cy="813.3" r="7.7"/><circle cx="601.5" cy="802.1" r="7.7"/><circle cx="605.4" cy="788.75" r="7.7"/><circle cx="609.2" cy="770.5" r="7.7"/><circle cx="612.8" cy="752.2" r="7.7"/><circle cx="616.3" cy="737.2" r="7.7"/><circle cx="619.2" cy="725.8" r="7.7"/><circle cx="623.7" cy="721.7" r="7.7"/><circle cx="627.5" cy="723.3" r="7.7"/><circle cx="631.7" cy="730.0" r="7.7"/><circle cx="636.3" cy="736.7" r="7.7"/><circle cx="640.0" cy="737.5" r="7.7"/><circle cx="644.2" cy="735.8" r="7.7"/><circle cx="648.3" cy="732.5" r="7.7"/><circle cx="653.3" cy="731.7" r="7.7"/><circle cx="655.0" cy="732.5" r="7.7"/><circle cx="659.2" cy="740.0" r="7.7"/><circle cx="662.0" cy="755.8" r="7.7"/><circle cx="665.8" cy="776.2" r="7.7"/><circle cx="669.5" cy="799.7" r="7.7"/><circle cx="673.0" cy="822.5" r="7.7"/><circle cx="676.7" cy="841.7" r="7.7"/><circle cx="680.3" cy="856.7" r="7.7"/><circle cx="684.2" cy="868.0" r="7.7"/><circle cx="687.5" cy="874.2" r="7.7"/><circle cx="690.8" cy="878.3" r="7.7"/><circle cx="695.0" cy="882.5" r="7.7"/><circle cx="699.2" cy="885.8" r="7.7"/><circle cx="702.5" cy="890.8" r="7.7"/><circle cx="705.8" cy="895.8" r="7.7"/><circle cx="709.2" cy="904.2" r="7.7"/><circle cx="712.5" cy="915.0" r="7.7"/><circle cx="715.8" cy="925.8" r="7.7"/><circle cx="719.2" cy="935.0" r="7.7"/><circle cx="721.7" cy="940.0" r="7.7"/><circle cx="725.0" cy="941.7" r="7.7"/><circle cx="728.3" cy="938.3" r="7.7"/><circle cx="730.8" cy="933.3" r="7.7"/><circle cx="734.2" cy="928.3" r="7.7"/><circle cx="736.7" cy="920.0" r="7.7"/><circle cx="740.0" cy="917.5" r="7.7"/><circle cx="744.2" cy="915.8" r="7.7"/><circle cx="748.3" cy="914.2" r="7.7"/><circle cx="751.7" cy="905.8" r="7.7"/><circle cx="754.6" cy="888.75" r="7.7"/><circle cx="758.7" cy="860.3" r="7.7"/><circle cx="762.0" cy="826.7" r="7.7"/><circle cx="765.3" cy="784.7" r="7.7"/><circle cx="769.2" cy="750.8" r="7.7"/><circle cx="772.0" cy="728.3" r="7.7"/><circle cx="776.7" cy="717.5" r="7.7"/><circle cx="780.0" cy="719.7" r="7.7"/><circle cx="784.2" cy="729.2" r="7.7"/><circle cx="787.5" cy="738.3" r="7.7"/><circle cx="790.8" cy="746.7" r="7.7"/><circle cx="794.2" cy="751.7" r="7.7"/><circle cx="797.5" cy="755.8" r="7.7"/><circle cx="800.0" cy="760.0" r="7.7"/><circle cx="802.5" cy="764.2" r="7.7"/><circle cx="806.7" cy="775.8" r="7.7"/><circle cx="810.5" cy="792.2" r="7.7"/><circle cx="814.5" cy="811.3" r="7.7"/><circle cx="818.3" cy="829.0" r="7.7"/><circle cx="822.0" cy="842.5" r="7.7"/><circle cx="826.7" cy="850.8" r="7.7"/><circle cx="830.8" cy="856.7" r="7.7"/><circle cx="834.2" cy="860.8" r="7.7"/><circle cx="838.3" cy="870.3" r="7.7"/><circle cx="842.2" cy="885.5" r="7.7"/><circle cx="846.3" cy="905.8" r="7.7"/><circle cx="850.0" cy="928.0" r="7.7"/><circle cx="853.7" cy="947.5" r="7.7"/><circle cx="858.3" cy="960.8" r="7.7"/><circle cx="862.5" cy="963.3" r="7.7"/><circle cx="866.7" cy="957.5" r="7.7"/><circle cx="870.3" cy="945.0" r="7.7"/><circle cx="874.2" cy="928.3" r="7.7"/><circle cx="878.0" cy="910.3" r="7.7"/><circle cx="882.0" cy="890.8" r="7.7"/><circle cx="885.8" cy="869.2" r="7.7"/><circle cx="890.0" cy="845.0" r="7.7"/><circle cx="894.2" cy="818.0" r="7.7"/><circle cx="897.8" cy="789.7" r="7.7"/><circle cx="901.5" cy="763.0" r="7.7"/><circle cx="905.5" cy="741.3" r="7.7"/><circle cx="909.3" cy="726.25" r="7.7"/><circle cx="913.1" cy="718.75" r="7.7"/><circle cx="916.4" cy="716.7" r="7.7"/><circle cx="920.2" cy="717.9" r="7.7"/><circle cx="924.3" cy="720.0" r="7.7"/><circle cx="927.7" cy="722.5" r="7.7"/><circle cx="931.0" cy="724.2" r="7.7"/><circle cx="934.3" cy="725.8" r="7.7"/><circle cx="937.7" cy="728.3" r="7.7"/><circle cx="941.0" cy="731.7" r="7.7"/><circle cx="944.3" cy="736.7" r="7.7"/><circle cx="945.2" cy="741.7" r="7.7"/><circle cx="947.7" cy="749.2" r="7.7"/><circle cx="951.4" cy="760.4" r="7.7"/><circle cx="955.2" cy="774.2" r="7.7"/><circle cx="959.5" cy="787.5" r="7.7"/><circle cx="963.3" cy="802.8" r="7.7"/></g>
<text transform="translate(105.24,34.03) scale(0.4868,0.5691)" font-family="&quot;Liberation Sans&quot;, sans-serif" font-weight="bold" font-style="normal" font-size="100" fill="#000">a</text>
<text transform="translate(104.64,604.80) scale(0.5624,0.6007)" font-family="&quot;Liberation Sans&quot;, sans-serif" font-weight="bold" font-style="normal" font-size="100" fill="#000">b</text>
<path fill-rule="evenodd" fill="#1c1c1c" d="M472.3,0.8 L457.1,34.0 L486.0,34.0 Z M472.0,12.0 L460.6,31.8 L479.9,31.8 Z"/>
<text transform="translate(486.65,34.25) scale(0.5179,0.5077)" font-family="&quot;Liberation Serif&quot;, sans-serif" font-weight="normal" font-style="normal" font-size="100" fill="#1c1c1c">Φ</text>
<text transform="translate(524.33,50.14) scale(0.2133,0.2577)" font-family="&quot;Liberation Sans&quot;, sans-serif" font-weight="normal" font-style="normal" font-size="100" fill="#1c1c1c" stroke="#fff" stroke-width="0.6">CEP</text>
<path d="M584.60,-0.30 C577.27,11.24 577.27,29.36 584.60,40.90" fill="none" stroke="#1c1c1c" stroke-width="2.4"/>
<g><path d="M591.6,19.2 Q593.2,14.0 598.8,13.9 L614.8,13.9" stroke="#1c1c1c" stroke-width="3.1" fill="none" stroke-linecap="butt"/><path d="M599.6,15.2 Q598.8,25.5 595.2,31.8" stroke="#1c1c1c" stroke-width="3.3" fill="none" stroke-linecap="round"/><circle cx="595.4" cy="32.2" r="2.35" fill="#1c1c1c"/><path d="M607.2,15.2 L606.6,28.2 Q606.6,33.2 610.2,33.0 Q612.8,32.8 614.2,29.8" stroke="#1c1c1c" stroke-width="2.8" fill="none" stroke-linecap="round"/></g>
<path d="M620.40,-0.30 C628.27,11.24 628.27,29.36 620.40,40.90" fill="none" stroke="#1c1c1c" stroke-width="2.4"/>
<g transform="translate(7.5,570.6)"><path fill-rule="evenodd" fill="#1c1c1c" d="M472.3,0.8 L457.1,34.0 L486.0,34.0 Z M472.0,12.0 L460.6,31.8 L479.9,31.8 Z"/></g>
<text transform="translate(494.16,604.85) scale(0.5119,0.5092)" font-family="&quot;Liberation Serif&quot;, sans-serif" font-weight="normal" font-style="normal" font-size="100" fill="#1c1c1c">Φ</text>
<text transform="translate(531.85,620.73) scale(0.2694,0.2694)" font-family="&quot;Liberation Sans&quot;, sans-serif" font-weight="normal" font-style="normal" font-size="100" fill="#1c1c1c" stroke="#fff" stroke-width="0.6">rel</text>
<path d="M578.70,570.90 C570.37,582.44 570.37,600.56 578.70,612.10" fill="none" stroke="#1c1c1c" stroke-width="2.4"/>
<g transform="translate(-6.8,570.3)"><path d="M591.6,19.2 Q593.2,14.0 598.8,13.9 L614.8,13.9" stroke="#1c1c1c" stroke-width="3.1" fill="none" stroke-linecap="butt"/><path d="M599.6,15.2 Q598.8,25.5 595.2,31.8" stroke="#1c1c1c" stroke-width="3.3" fill="none" stroke-linecap="round"/><circle cx="595.4" cy="32.2" r="2.35" fill="#1c1c1c"/><path d="M607.2,15.2 L606.6,28.2 Q606.6,33.2 610.2,33.0 Q612.8,32.8 614.2,29.8" stroke="#1c1c1c" stroke-width="2.8" fill="none" stroke-linecap="round"/></g>
<path d="M613.90,570.90 C622.03,582.44 622.03,600.56 613.90,612.10" fill="none" stroke="#1c1c1c" stroke-width="2.4"/>
<text transform="translate(245.72,88.75) scale(0.3986,0.3986)" font-family="&quot;Liberation Sans&quot;, sans-serif" font-weight="normal" font-style="normal" font-size="100" fill="#1c1c1c" stroke="#fff" stroke-width="1.7">-4</text>
<text transform="translate(245.72,655.00) scale(0.3986,0.3986)" font-family="&quot;Liberation Sans&quot;, sans-serif" font-weight="normal" font-style="normal" font-size="100" fill="#1c1c1c" stroke="#fff" stroke-width="1.7">-4</text>
<text transform="translate(386.37,88.75) scale(0.3929,0.3929)" font-family="&quot;Liberation Sans&quot;, sans-serif" font-weight="normal" font-style="normal" font-size="100" fill="#1c1c1c" stroke="#fff" stroke-width="1.7">-2</text>
<text transform="translate(386.37,655.00) scale(0.3929,0.3929)" font-family="&quot;Liberation Sans&quot;, sans-serif" font-weight="normal" font-style="normal" font-size="100" fill="#1c1c1c" stroke="#fff" stroke-width="1.7">-2</text>
<text transform="translate(533.00,88.36) scale(0.3873,0.3873)" font-family="&quot;Liberation Sans&quot;, sans-serif" font-weight="normal" font-style="normal" font-size="100" fill="#1c1c1c" stroke="#fff" stroke-width="1.7">0</text>
<text transform="translate(533.00,654.61) scale(0.3873,0.3873)" font-family="&quot;Liberation Sans&quot;, sans-serif" font-weight="normal" font-style="normal" font-size="100" fill="#1c1c1c" stroke="#fff" stroke-width="1.7">0</text>
<text transform="translate(672.85,88.75) scale(0.3929,0.3929)" font-family="&quot;Liberation Sans&quot;, sans-serif" font-weight="normal" font-style="normal" font-size="100" fill="#1c1c1c" stroke="#fff" stroke-width="1.7">2</text>
<text transform="translate(672.85,655.00) scale(0.3929,0.3929)" font-family="&quot;Liberation Sans&quot;, sans-serif" font-weight="normal" font-style="normal" font-size="100" fill="#1c1c1c" stroke="#fff" stroke-width="1.7">2</text>
<text transform="translate(812.79,88.75) scale(0.3986,0.3986)" font-family="&quot;Liberation Sans&quot;, sans-serif" font-weight="normal" font-style="normal" font-size="100" fill="#1c1c1c" stroke="#fff" stroke-width="1.7">4</text>
<text transform="translate(812.79,655.00) scale(0.3986,0.3986)" font-family="&quot;Liberation Sans&quot;, sans-serif" font-weight="normal" font-style="normal" font-size="100" fill="#1c1c1c" stroke="#fff" stroke-width="1.7">4</text>
<text transform="translate(67.68,113.36) scale(0.3937,0.3937)" font-family="&quot;Liberation Sans&quot;, sans-serif" font-weight="normal" font-style="normal" font-size="100" fill="#1c1c1c" stroke="#fff" stroke-width="1.7">20</text>
<text transform="translate(90.05,274.81) scale(0.3873,0.3873)" font-family="&quot;Liberation Sans&quot;, sans-serif" font-weight="normal" font-style="normal" font-size="100" fill="#1c1c1c" stroke="#fff" stroke-width="1.7">0</text>
<text transform="translate(54.79,437.51) scale(0.3930,0.3930)" font-family="&quot;Liberation Sans&quot;, sans-serif" font-weight="normal" font-style="normal" font-size="100" fill="#1c1c1c" stroke="#fff" stroke-width="1.7">-20</text>
<text transform="translate(271.33,469.83) scale(0.3732,0.3732)" font-family="&quot;Liberation Sans&quot;, sans-serif" font-weight="normal" font-style="normal" font-size="100" fill="#1c1c1c" stroke="#fff" stroke-width="1.7">-100</text>
<text transform="translate(533.39,469.83) scale(0.3732,0.3732)" font-family="&quot;Liberation Sans&quot;, sans-serif" font-weight="normal" font-style="normal" font-size="100" fill="#1c1c1c" stroke="#fff" stroke-width="1.7">0</text>
<text transform="translate(746.68,469.83) scale(0.3732,0.3732)" font-family="&quot;Liberation Sans&quot;, sans-serif" font-weight="normal" font-style="normal" font-size="100" fill="#1c1c1c" stroke="#fff" stroke-width="1.7">100</text>
<text transform="translate(89.91,682.31) scale(0.3901,0.3901)" font-family="&quot;Liberation Sans&quot;, sans-serif" font-weight="normal" font-style="normal" font-size="100" fill="#1c1c1c" stroke="#fff" stroke-width="1.7">8</text>
<text transform="translate(90.05,844.21) scale(0.3873,0.3873)" font-family="&quot;Liberation Sans&quot;, sans-serif" font-weight="normal" font-style="normal" font-size="100" fill="#1c1c1c" stroke="#fff" stroke-width="1.7">0</text>
<text transform="translate(77.87,1006.62) scale(0.3803,0.3803)" font-family="&quot;Liberation Sans&quot;, sans-serif" font-weight="normal" font-style="normal" font-size="100" fill="#1c1c1c" stroke="#fff" stroke-width="1.7">-8</text>
<text transform="translate(120.08,1039.60) scale(0.3928,0.3928)" font-family="&quot;Liberation Sans&quot;, sans-serif" font-weight="normal" font-style="normal" font-size="100" fill="#1c1c1c" stroke="#fff" stroke-width="1.7">-4</text>
<text transform="translate(323.72,1039.60) scale(0.3871,0.3871)" font-family="&quot;Liberation Sans&quot;, sans-serif" font-weight="normal" font-style="normal" font-size="100" fill="#1c1c1c" stroke="#fff" stroke-width="1.7">-2</text>
<text transform="translate(533.26,1039.22) scale(0.3817,0.3817)" font-family="&quot;Liberation Sans&quot;, sans-serif" font-weight="normal" font-style="normal" font-size="100" fill="#1c1c1c" stroke="#fff" stroke-width="1.7">0</text>
<text transform="translate(736.11,1039.60) scale(0.3871,0.3871)" font-family="&quot;Liberation Sans&quot;, sans-serif" font-weight="normal" font-style="normal" font-size="100" fill="#1c1c1c" stroke="#fff" stroke-width="1.7">2</text>
<text transform="translate(939.05,1039.60) scale(0.3928,0.3928)" font-family="&quot;Liberation Sans&quot;, sans-serif" font-weight="normal" font-style="normal" font-size="100" fill="#1c1c1c" stroke="#fff" stroke-width="1.7">4</text>
<path fill-rule="evenodd" fill="#1c1c1c" d="M457.6,474.4 L443.0,507.7 L471.5,507.7 Z M456.7,482.7 L445.9,505.5 L465.9,505.5 Z"/>
<text transform="translate(472.96,507.83) scale(0.4356,0.4667)" font-family="&quot;Liberation Sans&quot;, sans-serif" font-weight="normal" font-style="normal" font-size="100" fill="#1c1c1c" stroke="#fff" stroke-width="1.7">d</text>
<text transform="translate(497.14,524.05) scale(0.2356,0.2503)" font-family="&quot;Liberation Sans&quot;, sans-serif" font-weight="normal" font-style="normal" font-size="100" fill="#1c1c1c" stroke="#fff" stroke-width="0.6">SiO</text>
<text transform="translate(536.05,538.00) scale(0.2505,0.2686)" font-family="&quot;Liberation Sans&quot;, sans-serif" font-weight="normal" font-style="normal" font-size="100" fill="#1c1c1c" stroke="#fff" stroke-width="0.6">2</text>
<path d="M561.10,473.90 C552.70,485.41 552.70,503.49 561.10,515.00" fill="none" stroke="#1c1c1c" stroke-width="2.4"/>
<text transform="translate(565.51,508.00) scale(0.4594,0.4370)" font-family="&quot;Liberation Sans&quot;, sans-serif" font-weight="normal" font-style="normal" font-size="100" fill="#1c1c1c" stroke="#fff" stroke-width="1.7">μm</text>
<path d="M635.30,473.90 C642.90,485.41 642.90,503.49 635.30,515.00" fill="none" stroke="#1c1c1c" stroke-width="2.4"/>
<g transform="translate(42.0,572.3)"><path fill-rule="evenodd" fill="#1c1c1c" d="M457.6,474.4 L443.0,507.7 L471.5,507.7 Z M456.7,482.7 L445.9,505.5 L465.9,505.5 Z"/></g>
<text transform="translate(514.38,1079.66) scale(0.5451,0.4382)" font-family="&quot;Liberation Sans&quot;, sans-serif" font-weight="normal" font-style="normal" font-size="100" fill="#1c1c1c" stroke="#fff" stroke-width="1.7">t</text>
<path d="M551.70,1046.80 C544.23,1058.34 544.23,1076.46 551.70,1088.00" fill="none" stroke="#1c1c1c" stroke-width="2.4"/>
<text transform="translate(556.96,1079.64) scale(0.4234,0.4639)" font-family="&quot;Liberation Sans&quot;, sans-serif" font-weight="normal" font-style="normal" font-size="100" fill="#1c1c1c" stroke="#fff" stroke-width="1.7">fs</text>
<path d="M594.20,1046.80 C601.40,1058.34 601.40,1076.46 594.20,1088.00" fill="none" stroke="#1c1c1c" stroke-width="2.4"/>
<path d="M0.20,204.50 C11.74,197.30 29.86,197.30 41.40,204.50" fill="none" stroke="#1c1c1c" stroke-width="2.4"/>
<text transform="translate(33.90,235.69) scale(0.4526,0.3879) rotate(-90)" font-family="&quot;Liberation Sans&quot;, sans-serif" font-weight="normal" font-style="normal" font-size="100" fill="#1c1c1c" stroke="#fff" stroke-width="1.7">A</text>
<text transform="translate(34.04,261.52) scale(0.4268,0.4333) rotate(-90)" font-family="&quot;Liberation Sans&quot;, sans-serif" font-weight="normal" font-style="normal" font-size="100" fill="#1c1c1c" stroke="#fff" stroke-width="1.7">p</text>
<path d="M0.20,266.10 C11.74,274.37 29.86,274.37 41.40,266.10" fill="none" stroke="#1c1c1c" stroke-width="2.4"/>
<text transform="translate(50.44,326.95) scale(0.2634,0.2107) rotate(-90)" font-family="&quot;Liberation Sans&quot;, sans-serif" font-weight="normal" font-style="normal" font-size="100" fill="#1c1c1c" stroke="#fff" stroke-width="0.6">CEP</text>
<text transform="translate(33.84,338.57) scale(0.4364,0.5333) rotate(-90)" font-family="&quot;Liberation Sans&quot;, sans-serif" font-weight="normal" font-style="normal" font-size="100" fill="#1c1c1c" stroke="#fff" stroke-width="1.7">j</text>
<path d="M0.20,750.80 C11.74,743.47 29.86,743.47 41.40,750.80" fill="none" stroke="#1c1c1c" stroke-width="2.4"/>
<text transform="translate(33.90,782.20) scale(0.4526,0.3924) rotate(-90)" font-family="&quot;Liberation Sans&quot;, sans-serif" font-weight="normal" font-style="normal" font-size="100" fill="#1c1c1c" stroke="#fff" stroke-width="1.7">A</text>
<text transform="translate(33.90,807.65) scale(0.4204,0.4235) rotate(-90)" font-family="&quot;Liberation Sans&quot;, sans-serif" font-weight="normal" font-style="normal" font-size="100" fill="#1c1c1c" stroke="#fff" stroke-width="1.7">n</text>
<path d="M0.20,812.70 C11.74,820.57 29.86,820.57 41.40,812.70" fill="none" stroke="#1c1c1c" stroke-width="2.4"/>
<text transform="translate(50.80,850.52) scale(0.2989,0.3052) rotate(-90)" font-family="&quot;Liberation Serif&quot;, sans-serif" font-weight="normal" font-style="normal" font-size="100" fill="#1c1c1c">ω</text>
<text transform="translate(50.60,864.12) scale(0.2629,0.2440) rotate(-90)" font-family="&quot;Liberation Sans&quot;, sans-serif" font-weight="normal" font-style="normal" font-size="100" fill="#1c1c1c" stroke="#fff" stroke-width="0.6">2</text>
<text transform="translate(51.52,886.01) scale(0.2694,0.2619) rotate(-90)" font-family="&quot;Liberation Sans&quot;, sans-serif" font-weight="normal" font-style="normal" font-size="100" fill="#1c1c1c" stroke="#fff" stroke-width="0.6">+</text>
<text transform="translate(50.80,912.72) scale(0.2989,0.3052) rotate(-90)" font-family="&quot;Liberation Serif&quot;, sans-serif" font-weight="normal" font-style="normal" font-size="100" fill="#1c1c1c">ω</text>
<text transform="translate(33.79,923.78) scale(0.4385,0.5667) rotate(-90)" font-family="&quot;Liberation Sans&quot;, sans-serif" font-weight="normal" font-style="normal" font-size="100" fill="#1c1c1c" stroke="#fff" stroke-width="1.7">j</text>
</svg></body></html>
